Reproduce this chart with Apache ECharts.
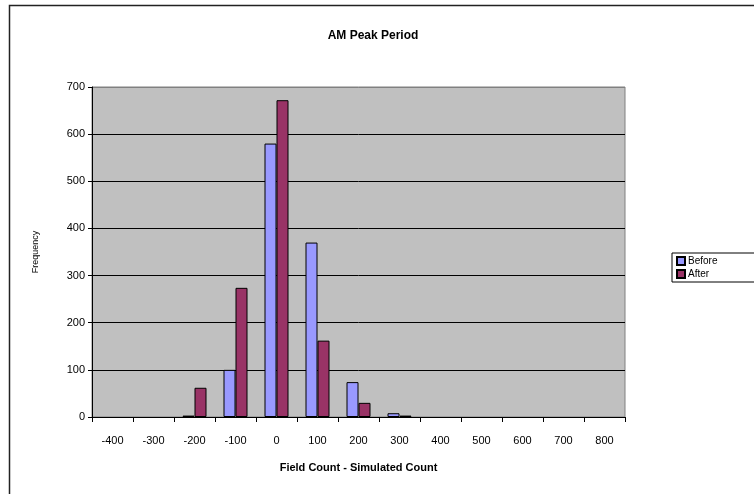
<!DOCTYPE html>
<html>
<head>
<meta charset="utf-8">
<script src="https://cdn.jsdelivr.net/npm/echarts@6/dist/echarts.min.js"></script>
<style>
html,body{margin:0;padding:0;background:#fff;}
#chart{width:754px;height:494px;}
</style>
</head>
<body>
<div id="chart"></div>
<script>
const categories = ['-400','-300','-200','-100','0','100','200','300','400','500','600','700','800'];
const beforeValues = [0, 0, 3, 100, 580, 370, 74, 8, 0, 0, 0, 0, 0];
const afterValues  = [0, 0, 62, 274, 672, 162, 30, 3, 0, 0, 0, 0, 0];
const yTicks = [0, 100, 200, 300, 400, 500, 600, 700];

function toBarData(values) {
  return values.map(function(v){
    return v === 0 ? {value: 0, itemStyle: {borderWidth: 0, opacity: 0}} : v;
  });
}

const chart = echarts.init(document.getElementById('chart'), null, {renderer: 'canvas'});
const font = 'Liberation Sans, Arial, sans-serif';
chart.setOption({
  animation: false,
  backgroundColor: '#fff',
  title: {
    text: 'AM Peak Period',
    left: 368, top: 25, textAlign: 'center',
    textStyle: {fontFamily: font, fontSize: 12, fontWeight: 'bold', color: '#000'}
  },
  graphic: [{
    type: 'rect', silent: true, z: -1,
    shape: {x: 9.5, y: 5.5, width: 800, height: 600},
    style: {fill: 'none', stroke: '#222', lineWidth: 1.5}
  }],
  legend: {
    orient: 'vertical', left: 672, top: 253,
    backgroundColor: '#fff', borderColor: '#000', borderWidth: 1,
    padding: [3, 40, 3, 4], itemGap: 3, itemWidth: 8, itemHeight: 8,
    icon: 'rect',
    textStyle: {fontFamily: font, fontSize: 10, color: '#000', padding: [0,0,0,-2]},
    data: ['Before', 'After']
  },
  grid: {left: 92, right: 129, top: 87, bottom: 77, show: true, backgroundColor: '#C0C0C0', borderColor: '#808080', borderWidth: 1},
  xAxis: {
    type: 'category', data: categories,
    name: 'Field Count - Simulated Count', nameLocation: 'middle', nameGap: 45,
    nameTextStyle: {fontFamily: font, fontSize: 11, fontWeight: 'bold', color: '#000'},
    axisLine: {lineStyle: {color: '#000', width: 1}},
    axisTick: {show: true, interval: 0, length: 5, lineStyle: {color: '#000'}},
    axisLabel: {interval: 0, margin: 18, fontFamily: font, fontSize: 11, color: '#000'},
    splitLine: {show: false}
  },
  yAxis: {
    type: 'value', min: 0, max: 700, interval: 100,
    name: 'Frequency', nameLocation: 'middle', nameGap: 52,
    nameTextStyle: {fontFamily: font, fontSize: 9, color: '#000'},
    axisLine: {show: true, lineStyle: {color: '#000', width: 1}},
    axisTick: {show: true, length: 4, lineStyle: {color: '#000'}},
    axisLabel: {margin: 7, fontFamily: font, fontSize: 11, color: '#000',
      formatter: function(v){ return yTicks.indexOf(v) >= 0 ? String(v) : ''; }},
    splitLine: {show: true, lineStyle: {color: ['#000','#000','#000','#000','#000','#000','#000','#808080'], width: 1}}
  },
  series: [
    {name: 'Before', type: 'bar', data: toBarData(beforeValues), barWidth: 12, barGap: '0%',
     itemStyle: {color: '#9999FF', borderColor: '#000', borderWidth: 1}},
    {name: 'After', type: 'bar', data: toBarData(afterValues), barWidth: 12, barGap: '0%',
     itemStyle: {color: '#993366', borderColor: '#000', borderWidth: 1}}
  ]
});
</script>
</body>
</html>
